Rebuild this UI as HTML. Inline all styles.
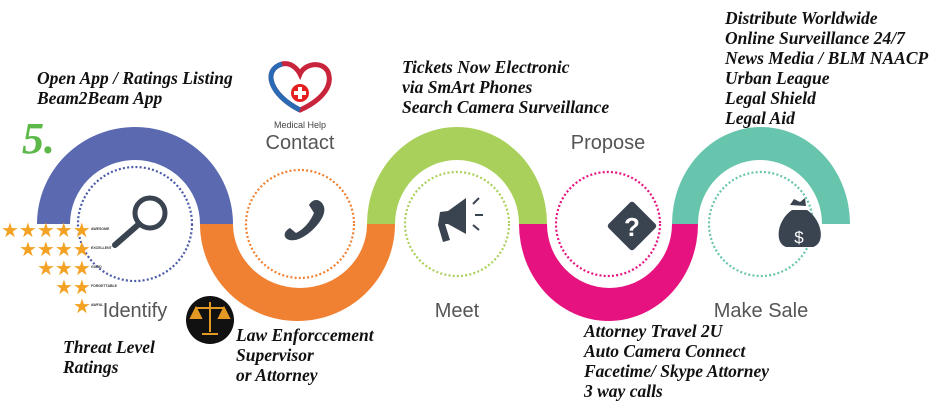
<!DOCTYPE html>
<html><head><meta charset="utf-8"><style>
body{margin:0;background:#fff;width:933px;height:409px;overflow:hidden;position:relative;font-family:"Liberation Sans",sans-serif}
.t{position:absolute;font-family:"Liberation Serif",serif;font-weight:bold;font-style:italic;font-size:17.5px;line-height:20px;color:#111;white-space:nowrap}
.l{position:absolute;font-size:20px;color:#555;transform:translateX(-50%);white-space:nowrap}
</style></head><body>
<svg width="933" height="409" style="position:absolute;left:0;top:0">
<path d="M37 224 A98 97 0 0 1 233 224 L200 224 A65 64 0 0 0 70 224 Z" fill="#5a69b0"/>
<path d="M200 224 A97.5 97 0 0 0 395 224 L367 224 A67 64 0 0 1 233 224 Z" fill="#f08132"/>
<path d="M367 224 A90 97 0 0 1 547 224 L519 224 A62 64 0 0 0 395 224 Z" fill="#a9d05a"/>
<path d="M519 224 A89.5 97 0 0 0 698 224 L672 224 A62.5 64 0 0 1 547 224 Z" fill="#e6127f"/>
<path d="M672 224 A89 97 0 0 1 850 224 L822 224 A62 64 0 0 0 698 224 Z" fill="#68c5ad"/>
<g fill="none" stroke-width="2.2" stroke-dasharray="2 2.2">
<circle cx="135" cy="224" r="57" stroke="#4a5aa8"/>
<circle cx="300" cy="224" r="54" stroke="#f08132"/>
<circle cx="457" cy="224" r="52" stroke="#a9d05a"/>
<circle cx="608" cy="224" r="52" stroke="#e6127f"/>
<circle cx="761" cy="224" r="52" stroke="#68c5ad"/>
</g>
<circle cx="150" cy="213" r="15" fill="none" stroke="#3a4350" stroke-width="5"/>
<line x1="139" y1="224" x2="115" y2="245" stroke="#3a4350" stroke-width="6" stroke-linecap="round"/>
<path d="M322 203 c-5-6-11-2-13 2 l5 8 c-4 9-10 16-18 20 l-6-5 c-4 2-8 7-3 11 c11 6 30-10 36-23 c2-5 2-9 -1-13z" fill="#3a4350"/>
<path d="M440 212 l8-1 l18-13 v36 l-18-10 l-3 0 l5 16 l-7 2 l-5-17 z" fill="#3a4350"/>
<path d="M473 204 l6-6 M475 215 h8 M473 225 l6 5" stroke="#3a4350" stroke-width="2"/>
<rect x="614" y="208" width="36" height="36" rx="3" transform="rotate(45 632 226)" fill="#3a4350"/>
<text x="632" y="236" font-size="26" font-weight="bold" fill="#fff" text-anchor="middle">?</text>
<path d="M790 205 l4-6 l6 3 l5-4 l1 8 z" fill="#3a4350"/>
<path d="M792 210 h15 c15 10 19 33 6 37 h-27 c-12-4-9-27 6-37z" fill="#3a4350"/>
<text x="799" y="243" font-size="17" fill="#fff" text-anchor="middle">$</text>
<path d="M300 110 C270 95 262 70 282 64 C292 62 298 70 300 74 C304 64 322 60 328 72 C334 88 318 102 300 110Z" fill="none" stroke="#c8243c" stroke-width="5"/>
<path d="M300 110 C270 95 262 70 282 64" fill="none" stroke="#2a6ab4" stroke-width="5"/>
<circle cx="300" cy="93" r="9" fill="#e52020"/>
<rect x="298" y="87" width="4" height="12" fill="#fff"/><rect x="294" y="91" width="12" height="4" fill="#fff"/>
<text x="300" y="128" font-size="9" fill="#444" text-anchor="middle">Medical Help</text>
<circle cx="210" cy="320" r="24" fill="#111"/>
<path d="M210 302 v30 M196 308 h28 M202 334 h16 M196 308 l-5 10 h10 z M224 308 l-5 10 h10 z" stroke="#e39a24" stroke-width="2" fill="#e39a24"/>
<g fill="#f3a223" font-size="20" font-family="DejaVu Sans">
<text x="1" y="237">★★★★★</text>
<text x="19" y="256">★★★★</text>
<text x="37" y="275">★★★</text>
<text x="55" y="294">★★</text>
<text x="73" y="313">★</text>
</g>
<g font-size="3.5" fill="#333" font-weight="bold"><text x="91" y="230">AWESOME</text><text x="91" y="249">EXCELLENT</text><text x="91" y="268">GOOD</text><text x="91" y="287">FORGETTABLE</text><text x="91" y="306">AWFUL</text></g>
</svg>
<div class="t" style="left:22px;top:116px;font-size:44px;line-height:46px;color:#5cb849">5.</div>
<div class="t" style="left:37px;top:68px">Open App / Ratings Listing<br>Beam2Beam App</div>
<div class="t" style="left:402px;top:57px">Tickets Now Electronic<br>via SmArt Phones<br>Search Camera Surveillance</div>
<div class="t" style="left:725px;top:8px">Distribute Worldwide<br>Online Surveillance 24/7<br>News Media / BLM NAACP<br>Urban League<br>Legal Shield<br>Legal Aid</div>
<div class="t" style="left:63px;top:337px">Threat Level<br>Ratings</div>
<div class="t" style="left:236px;top:325px">Law Enforccement<br>Supervisor<br>or Attorney</div>
<div class="t" style="left:584px;top:321px">Attorney Travel 2U<br>Auto Camera Connect<br>Facetime/ Skype Attorney<br>3 way calls</div>
<div class="l" style="left:135px;top:300px">Identify</div>
<div class="l" style="left:300px;top:132px">Contact</div>
<div class="l" style="left:457px;top:300px">Meet</div>
<div class="l" style="left:608px;top:132px">Propose</div>
<div class="l" style="left:761px;top:300px">Make Sale</div>
</body></html>
